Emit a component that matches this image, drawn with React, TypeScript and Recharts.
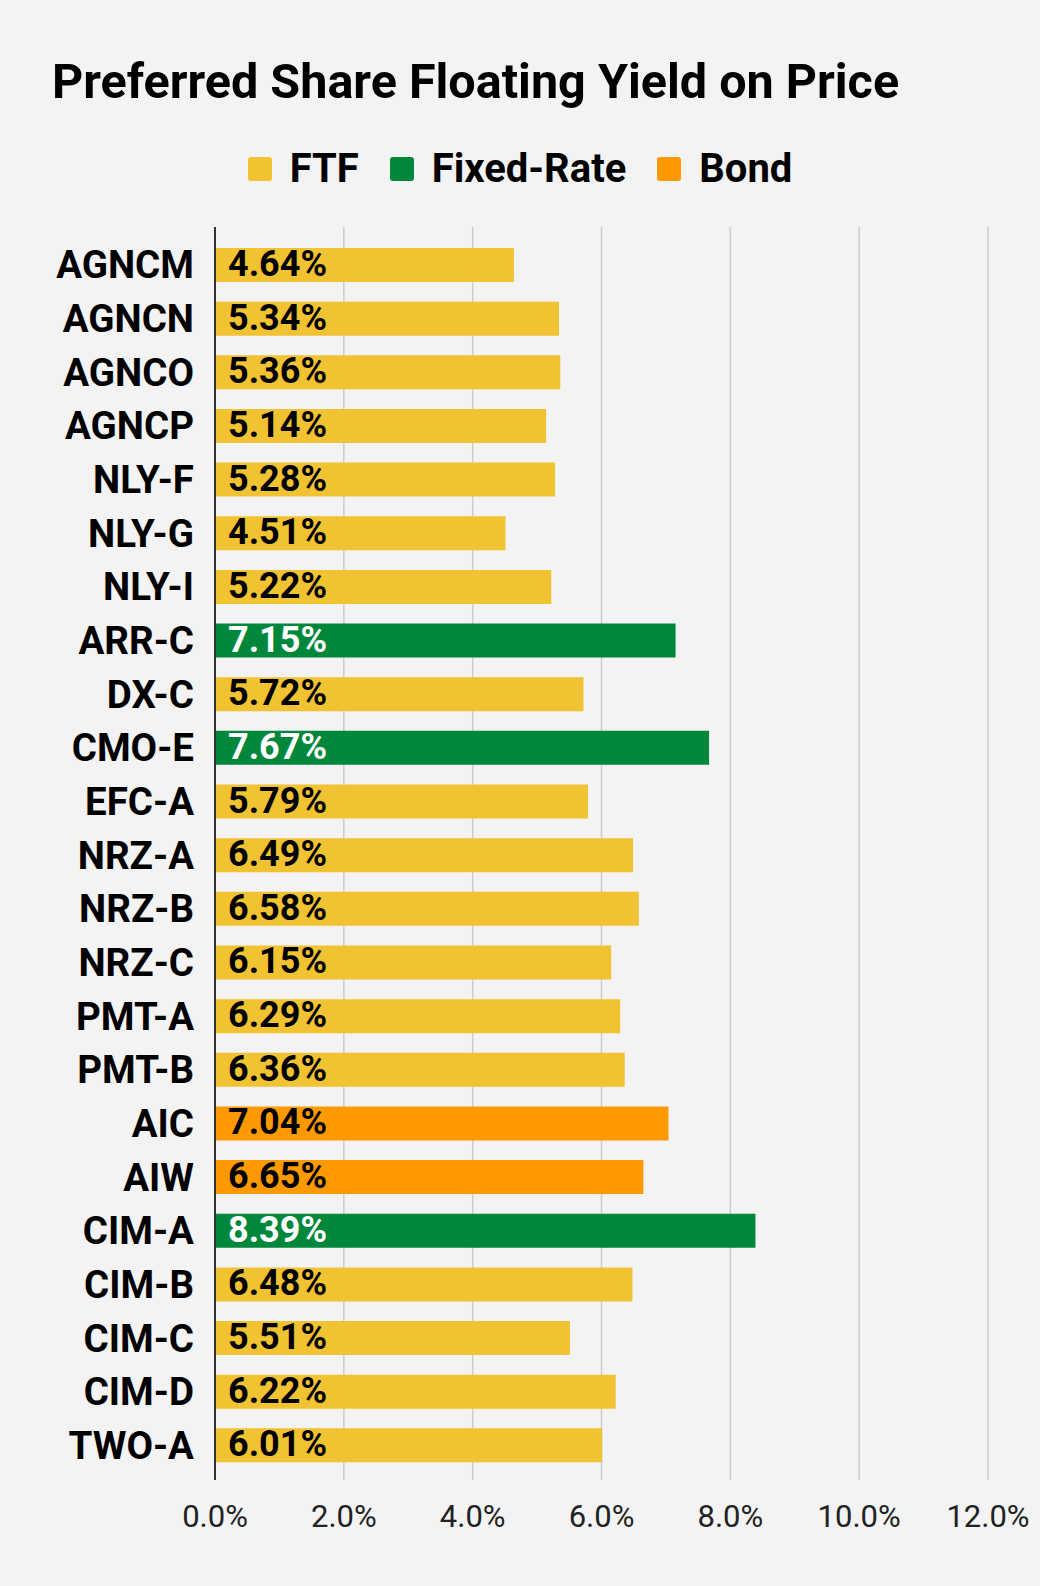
import React from 'react'
import { BarChart, Bar, XAxis, YAxis, CartesianGrid, Cell, LabelList } from 'recharts'

// values (yield on price, %)
const tickers = [
  'AGNCM', 'AGNCN', 'AGNCO', 'AGNCP', 'NLY-F', 'NLY-G', 'NLY-I', 'ARR-C', 'DX-C', 'CMO-E', 'EFC-A', 'NRZ-A',
  'NRZ-B', 'NRZ-C', 'PMT-A', 'PMT-B', 'AIC', 'AIW', 'CIM-A', 'CIM-B', 'CIM-C', 'CIM-D', 'TWO-A',
]
const yields = [
  4.64, 5.34, 5.36, 5.14, 5.28, 4.51, 5.22, 7.15, 5.72, 7.67, 5.79, 6.49,
  6.58, 6.15, 6.29, 6.36, 7.04, 6.65, 8.39, 6.48, 5.51, 6.22, 6.01,
]
const kinds = [
  'FTF', 'FTF', 'FTF', 'FTF', 'FTF', 'FTF', 'FTF', 'Fixed-Rate', 'FTF', 'Fixed-Rate', 'FTF', 'FTF',
  'FTF', 'FTF', 'FTF', 'FTF', 'Bond', 'Bond', 'Fixed-Rate', 'FTF', 'FTF', 'FTF', 'FTF',
]
const xTicks = [0, 2, 4, 6, 8, 10, 12]

const legendItems = ['FTF', 'Fixed-Rate', 'Bond']
const kindColor: Record<string, string> = { FTF: '#F1C232', 'Fixed-Rate': '#00873C', Bond: '#FF9900' }
const kindText: Record<string, string> = { FTF: '#000000', 'Fixed-Rate': '#FFFFFF', Bond: '#000000' }

const FONT = 'Roboto, "Noto Sans", sans-serif'

const chartData = tickers.map((name, i) => ({ name, value: yields[i], kind: kinds[i] }))

const ValueLabel = (props: any) => {
  const { x, y, height, value, index } = props
  const kind = kinds[index] ?? 'FTF'
  return (
    <text
      x={Number(x) + 13}
      y={Number(y) + Number(height) / 2 + 11}
      fill={kindText[kind]}
      fontSize={36}
      fontWeight={700}
      fontFamily={FONT}
    >
      {`${Number(value).toFixed(2)}%`}
    </text>
  )
}

export default function App() {
  return (
    <div style={{ position: 'absolute', left: 0, top: 0, width: 1040, height: 1586, background: '#F3F3F3', fontFamily: FONT }}>
      <svg width={1040} height={120} style={{ position: 'absolute', left: 0, top: 0 }}>
        <text x={52} y={98} fontSize={48.5} fontWeight={700} fill="#000" fontFamily={FONT}>
          Preferred Share Floating Yield on Price
        </text>
      </svg>

      <div
        style={{
          position: 'absolute', left: 0, top: 145, width: 1040, height: 48,
          display: 'flex', justifyContent: 'center', alignItems: 'center',
        }}
      >
        {legendItems.map((k, i) => (
          <div key={k} style={{ display: 'flex', alignItems: 'center', marginRight: i < legendItems.length - 1 ? 31 : 0 }}>
            <div style={{ width: 24, height: 24, borderRadius: 3, background: kindColor[k], marginRight: 18 }} />
            <span style={{ fontSize: 40, fontWeight: 700, lineHeight: '48px', color: '#000' }}>{k}</span>
          </div>
        ))}
      </div>

      <div style={{ position: 'absolute', left: 0, top: 0 }}>
        <BarChart
          width={1040}
          height={1586}
          data={chartData}
          layout="vertical"
          margin={{ top: 227, right: 52, left: 0, bottom: 46 }}
        >
          <CartesianGrid horizontal={false} stroke="#CCCCCC" strokeWidth={1.5} />
          <XAxis
            type="number"
            domain={[0, 12]}
            ticks={xTicks}
            tickFormatter={(v: number) => `${v.toFixed(1)}%`}
            axisLine={false}
            tickLine={false}
            tickMargin={19}
            height={60}
            tick={{ fontSize: 31, fill: '#222', fontFamily: FONT }}
          />
          <YAxis
            type="category"
            dataKey="name"
            width={215}
            padding={{ top: 11, bottom: 8 }}
            axisLine={{ stroke: '#333', strokeWidth: 2 }}
            tickLine={false}
            tickMargin={15}
            interval={0}
            tick={{ fontSize: 38.5, fontWeight: 700, fill: '#000', fontFamily: FONT }}
          />
          <Bar dataKey="value" barSize={34} isAnimationActive={false}>
            {chartData.map((d, i) => (
              <Cell key={`cell-${i}`} fill={kindColor[d.kind]} />
            ))}
            <LabelList dataKey="value" content={ValueLabel} />
          </Bar>
        </BarChart>
      </div>
    </div>
  )
}
